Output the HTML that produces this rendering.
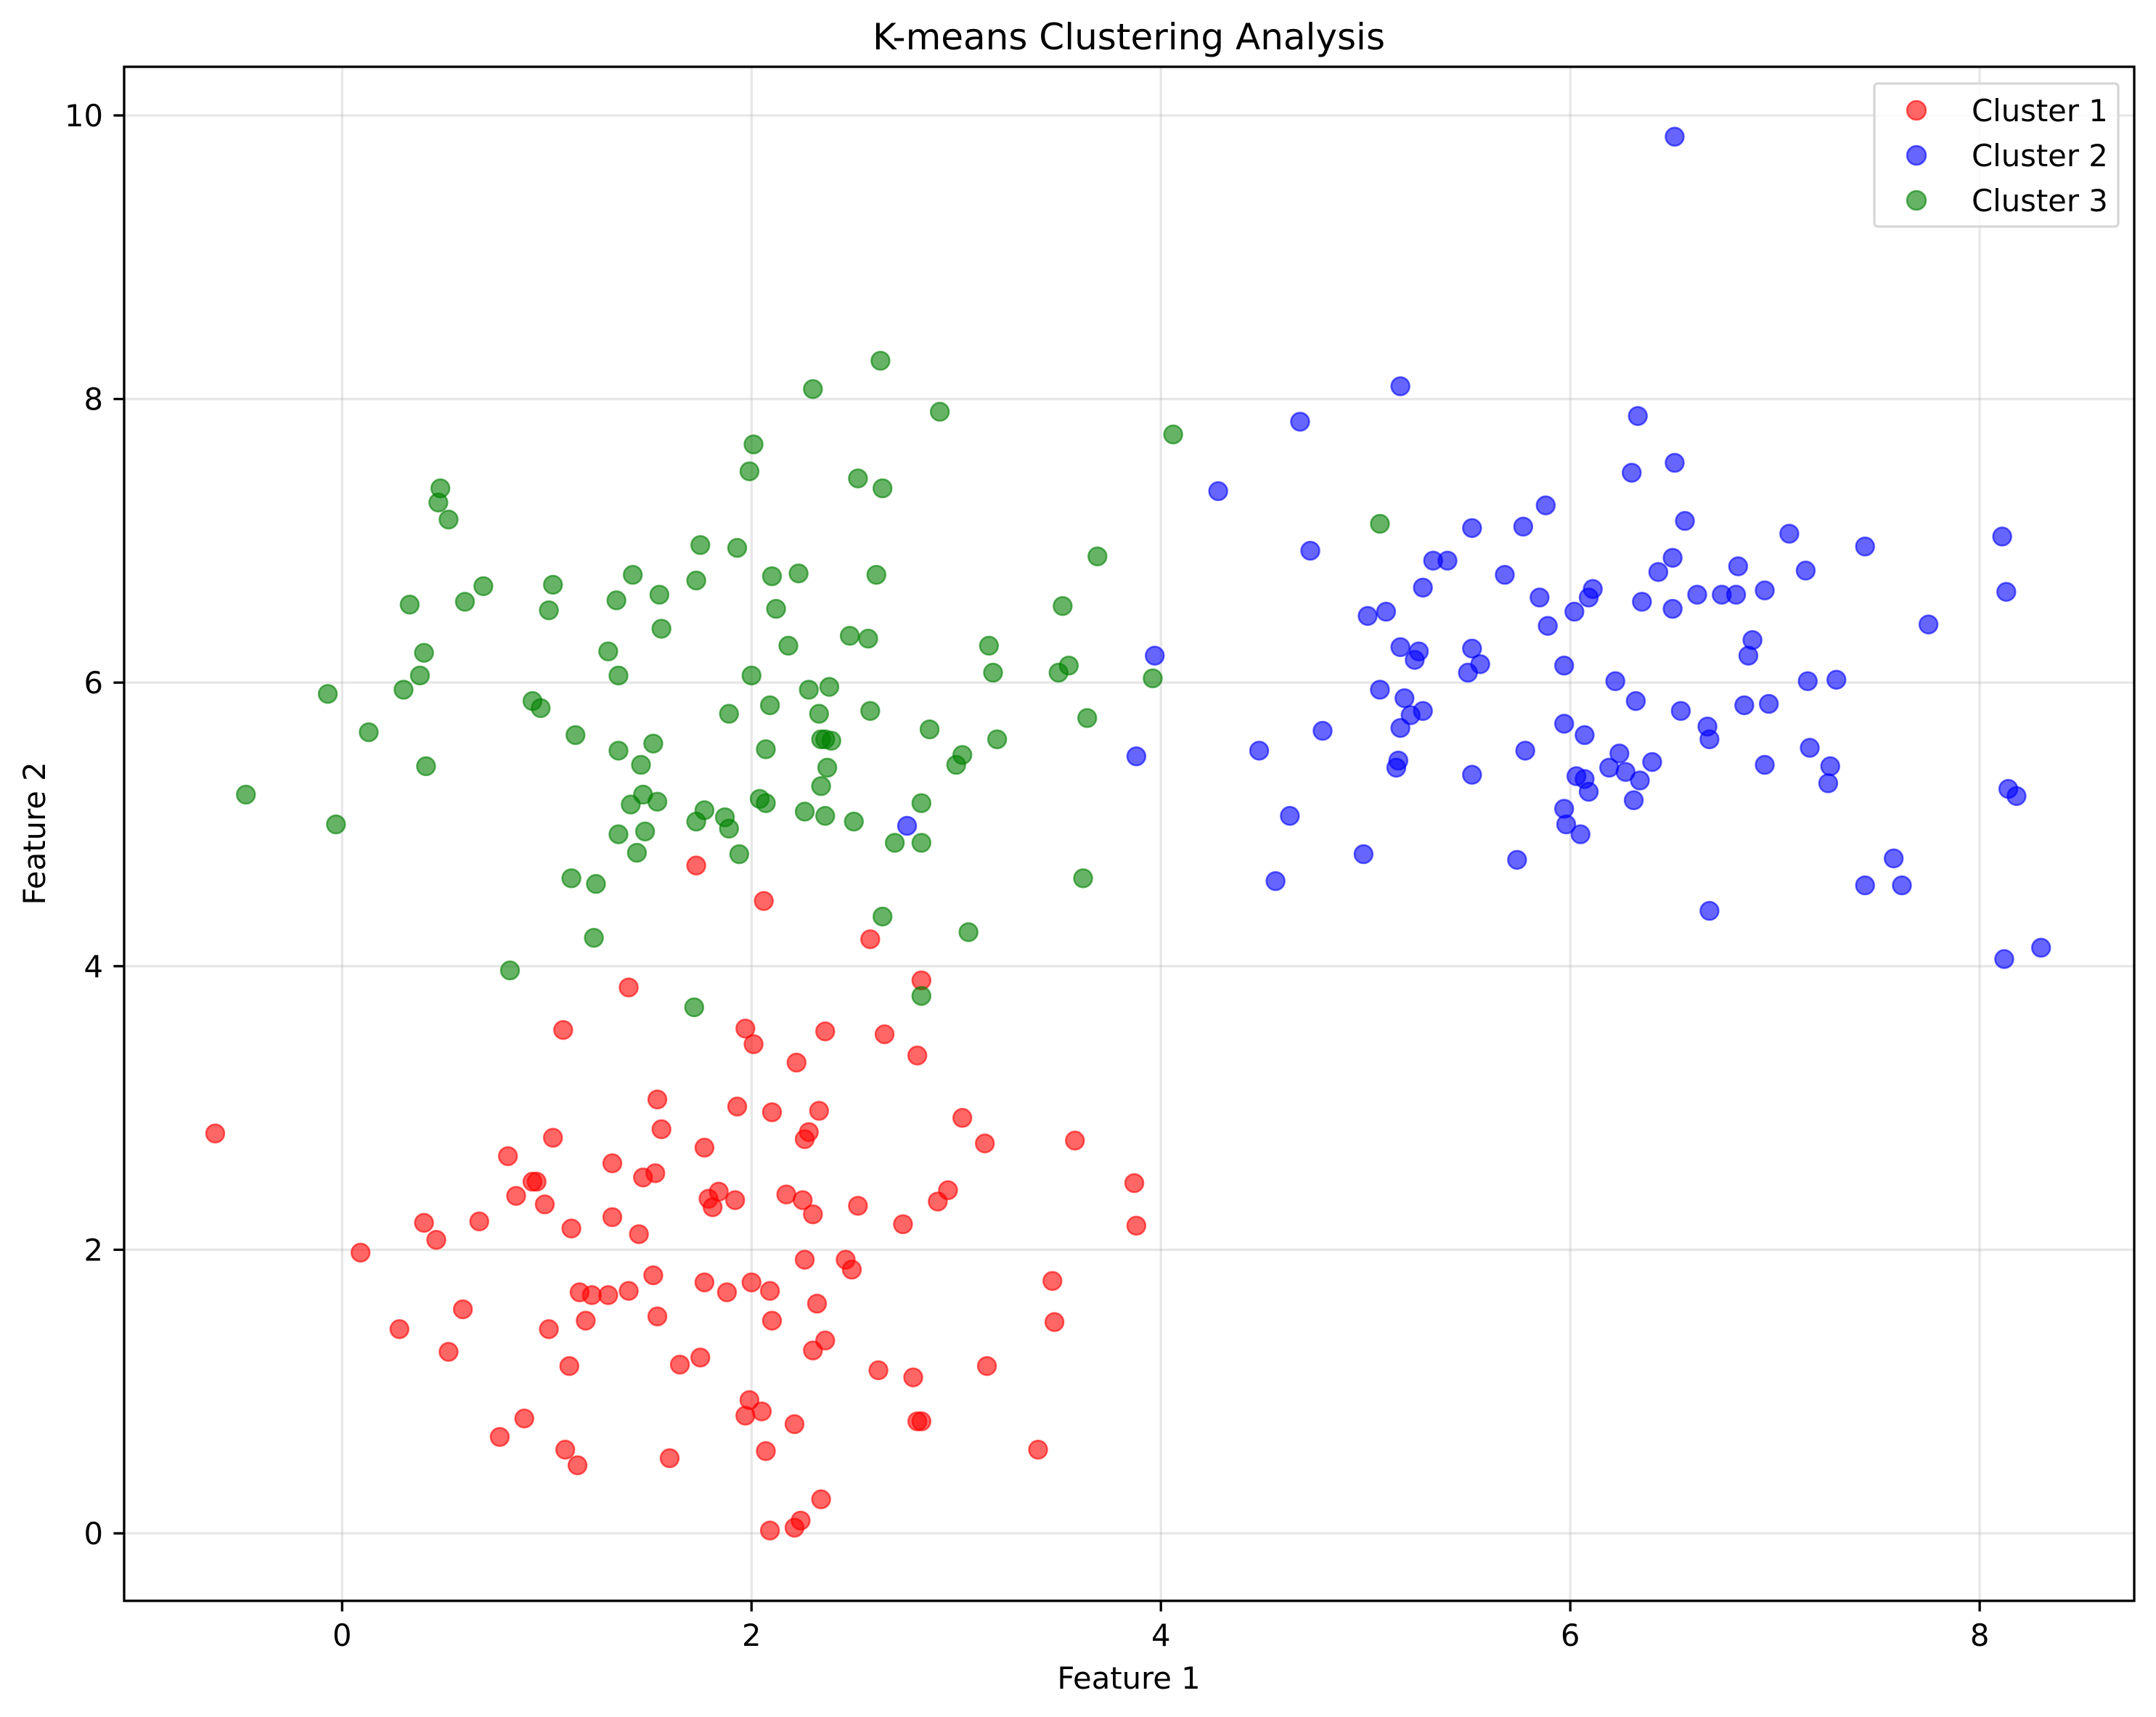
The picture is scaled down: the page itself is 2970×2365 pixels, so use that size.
<!DOCTYPE html>
<html><head><meta charset="utf-8"><style>
html,body{margin:0;padding:0;background:#fff;}
svg{display:block;font-family:"DejaVu Sans","Liberation Sans",sans-serif;}
</style></head><body>
<svg id="chart" width="2970" height="2365" viewBox="0 0 2970 2365" xmlns="http://www.w3.org/2000/svg">
<rect x="0" y="0" width="2970" height="2365" fill="#fff"/>
<g id="grid"></g>
<g id="points"></g>
<g id="axes"></g>
<text x="1555" y="68" font-size="50" text-anchor="middle">K-means Clustering Analysis</text>
<text x="1555" y="2326" font-size="41.7" text-anchor="middle">Feature 1</text>
<text transform="translate(62,1148) rotate(-90)" font-size="41.7" text-anchor="middle">Feature 2</text>
<g>
<rect x="2582" y="115" width="336" height="197" rx="5" fill="#fff" fill-opacity="0.8" stroke="#d6d6d6" stroke-width="3.3"/>
<g><circle cx="2640" cy="152" r="13" fill="red" fill-opacity="0.6" stroke="red" stroke-opacity="0.6" stroke-width="2.5"/><text x="2716" y="167" font-size="41.7">Cluster 1</text></g>
<g><circle cx="2640" cy="214" r="13" fill="blue" fill-opacity="0.6" stroke="blue" stroke-opacity="0.6" stroke-width="2.5"/><text x="2716" y="229" font-size="41.7">Cluster 2</text></g>
<g><circle cx="2640" cy="276" r="13" fill="green" fill-opacity="0.6" stroke="green" stroke-opacity="0.6" stroke-width="2.5"/><text x="2716" y="291" font-size="41.7">Cluster 3</text></g>
</g>
</svg>
<script>
const xTicks = [0, 2, 4, 6, 8];
const yTicks = [0, 2, 4, 6, 8, 10];
const c1x = [-0.62,0.09,0.28,0.40,0.46,0.59,0.52,0.67,0.77,0.81,0.85,0.89,0.93,0.95,0.99,1.01,1.03,1.08,1.09,1.11,1.12,1.15,1.16,1.19,1.22,1.30,1.32,1.32,1.40,1.40,1.45,1.47,1.53,1.52,1.54,1.54,1.56,1.60,1.65,1.73,1.75,1.77,1.77,1.79,1.81,1.84,1.88,1.92,1.93,1.97,1.97,1.99,2.00,2.01,2.05,2.06,2.07,2.09,2.09,2.10,2.10,2.17,2.21,2.21,2.22,2.24,2.25,2.26,2.26,2.28,2.30,2.30,2.32,2.33,2.34,2.36,2.36,2.46,2.49,2.52,2.58,2.62,2.65,2.74,2.79,2.81,2.81,2.83,2.83,2.91,2.96,3.03,3.14,3.15,3.40,3.47,3.48,3.58,3.87,3.88];
const c1y = [2.82,1.98,1.44,2.19,2.07,1.58,1.28,2.20,0.68,2.66,2.38,0.81,2.48,2.48,2.32,1.44,2.79,3.55,0.59,1.18,2.15,0.48,1.70,1.50,1.68,1.68,2.61,2.23,3.85,1.71,2.11,2.51,2.54,1.82,1.53,3.06,2.85,0.53,1.19,4.71,1.24,1.77,2.72,2.36,2.30,2.41,1.70,2.35,3.01,3.56,0.83,0.94,1.77,3.45,0.86,4.46,0.58,1.71,0.02,2.97,1.50,2.39,0.77,0.04,3.32,0.09,2.35,1.93,2.78,2.83,2.25,1.29,1.62,2.98,0.24,1.36,3.54,1.93,1.86,2.31,4.19,1.15,3.52,2.18,1.10,3.37,0.79,0.79,3.90,2.34,2.42,2.93,2.75,1.18,0.59,1.78,1.49,2.77,2.47,2.17];
const c2x = [2.76,3.88,3.97,4.28,4.48,4.56,4.63,4.68,4.73,4.79,4.99,5.01,5.07,5.10,5.15,5.16,5.17,5.17,5.17,5.19,5.22,5.24,5.26,5.28,5.28,5.33,5.40,5.50,5.52,5.52,5.52,5.56,5.68,5.74,5.77,5.78,5.85,5.88,5.89,5.97,5.97,5.97,5.98,6.02,6.03,6.05,6.07,6.07,6.09,6.09,6.11,6.19,6.22,6.24,6.27,6.30,6.31,6.32,6.33,6.34,6.35,6.40,6.43,6.50,6.50,6.51,6.51,6.54,6.56,6.62,6.67,6.68,6.68,6.74,6.81,6.82,6.85,6.87,6.89,6.95,6.95,6.97,7.07,7.15,7.16,7.17,7.26,7.27,7.30,7.44,7.44,7.58,7.62,7.75,8.11,8.12,8.13,8.14,8.18,8.30];
const c2y = [4.99,5.48,6.19,7.35,5.52,4.60,5.06,7.84,6.93,5.66,4.79,6.47,5.95,6.50,5.40,5.45,6.25,5.68,8.09,5.89,5.77,6.16,6.22,6.67,5.80,6.86,6.86,6.07,5.35,7.09,6.24,6.13,6.76,4.75,7.10,5.52,6.60,7.25,6.40,6.12,5.71,5.11,5.00,6.50,5.34,4.93,5.32,5.63,6.60,5.23,6.66,5.40,6.01,5.50,5.37,7.48,5.17,5.87,7.88,5.31,6.57,5.44,6.78,6.88,6.52,7.55,9.85,5.80,7.14,6.62,5.69,5.60,4.39,6.62,6.62,6.82,5.84,6.19,6.30,6.65,5.42,5.85,7.05,6.79,6.01,5.54,5.29,5.41,6.02,4.57,6.96,4.76,4.57,6.41,7.03,4.05,6.64,5.25,5.20,4.13];
const c3x = [-0.47,-0.07,-0.03,0.13,0.30,0.33,0.38,0.40,0.41,0.47,0.48,0.52,0.60,0.69,0.82,0.93,0.97,1.01,1.03,1.12,1.14,1.23,1.24,1.30,1.34,1.35,1.35,1.35,1.41,1.42,1.44,1.46,1.47,1.48,1.52,1.54,1.55,1.56,1.72,1.73,1.73,1.75,1.77,1.87,1.89,1.89,1.93,1.94,1.99,2.00,2.01,2.04,2.07,2.07,2.09,2.10,2.12,2.18,2.23,2.26,2.28,2.30,2.33,2.34,2.34,2.36,2.36,2.37,2.38,2.39,2.48,2.50,2.52,2.57,2.58,2.61,2.63,2.64,2.64,2.70,2.83,2.83,2.83,2.87,2.92,3.00,3.03,3.06,3.16,3.18,3.20,3.50,3.52,3.55,3.62,3.64,3.69,3.96,4.06,5.07];
const c3y = [5.21,5.92,5.00,5.65,5.95,6.55,6.05,6.21,5.41,7.27,7.37,7.15,6.57,6.68,3.97,5.87,5.82,6.51,6.69,4.62,5.63,4.20,4.58,6.22,6.58,6.05,5.52,4.93,5.14,6.76,4.80,5.42,5.21,4.95,5.57,5.16,6.62,6.38,3.71,6.72,5.02,6.97,5.10,5.05,5.78,4.97,6.95,4.79,7.49,6.05,7.68,5.18,5.53,5.15,5.84,6.75,6.52,6.26,6.77,5.09,5.95,8.07,5.78,5.27,5.60,5.60,5.06,5.40,5.97,5.59,6.33,5.02,7.44,6.31,5.80,6.76,8.27,4.35,7.37,4.87,5.15,4.87,3.79,5.67,7.91,5.42,5.49,4.24,6.26,6.07,5.60,6.07,6.54,6.12,4.62,5.75,6.89,6.03,7.75,7.12];

const NS = 'http://www.w3.org/2000/svg';
const L = 171, R = 2940, T = 92, B = 2205;
const xMin = -1.065, xMax = 8.755, yMin = -0.476, yMax = 10.343;
function sx(v){ return L + (v - xMin) / (xMax - xMin) * (R - L); }
function sy(v){ return B - (v - yMin) / (yMax - yMin) * (B - T); }
function mk(tag, attrs, parent){ const e = document.createElementNS(NS, tag); for (const k in attrs) e.setAttribute(k, attrs[k]); parent.appendChild(e); return e; }

const grid = document.getElementById('grid');
const axes = document.getElementById('axes');
const pts = document.getElementById('points');

xTicks.forEach(t => {
  const x = sx(t);
  const g = mk('line', {x1:x, x2:x, y1:T, y2:B, stroke:'#b0b0b0', 'stroke-opacity':0.3, 'stroke-width':3.3}, grid);
  
  
  const tk = mk('line', {x1:x, x2:x, y1:B, y2:B+14.6, stroke:'#000', 'stroke-width':3.3}, axes);
  
  
  const lb = mk('text', {x:x, y:B+62, 'font-size':41.7, 'text-anchor':'middle'}, axes);
  lb.textContent = String(t);
  
  
});
yTicks.forEach(t => {
  const y = sy(t);
  const g = mk('line', {x1:L, x2:R, y1:y, y2:y, stroke:'#b0b0b0', 'stroke-opacity':0.3, 'stroke-width':3.3}, grid);
  
  
  const tk = mk('line', {x1:L-14.6, x2:L, y1:y, y2:y, stroke:'#000', 'stroke-width':3.3}, axes);
  
  
  const lb = mk('text', {x:L-29, y:y+15, 'font-size':41.7, 'text-anchor':'end'}, axes);
  lb.textContent = String(t);
  
  
});
const frame = mk('rect', {x:L, y:T, width:R-L, height:B-T, fill:'none', stroke:'#000', 'stroke-width':3.3}, axes);



function drawSeries(xs, ys, color, name){
  const g = mk('g', {}, pts);
  
  
  for (let i = 0; i < xs.length; i++){
    const c = mk('circle', {cx:sx(xs[i]), cy:sy(ys[i]), r:12.5, fill:color, 'fill-opacity':0.6, stroke:color, 'stroke-opacity':0.6, 'stroke-width':2.5}, g);
    
    
  }
}
drawSeries(c1x, c1y, 'red', 'cluster-1');
drawSeries(c2x, c2y, 'blue', 'cluster-2');
drawSeries(c3x, c3y, 'green', 'cluster-3');
</script>
</body></html>
